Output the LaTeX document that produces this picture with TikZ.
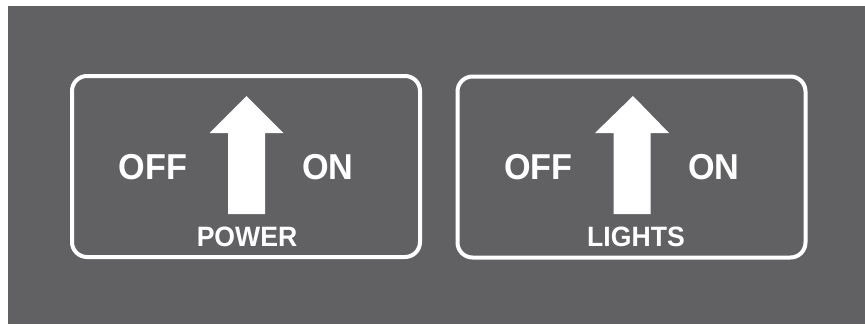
\documentclass[tikz,border=0pt]{standalone}
\usepackage{fontspec}
\setmainfont{Liberation Sans}[FakeStretch=0.95]
\usepackage{xcolor}
\definecolor{panelgrey}{HTML}{616163}

\begin{document}
\begin{tikzpicture}[
  x=1pt, y=-1pt,
  panel/.style={draw=white, line width=4pt, rounded corners=15pt, minimum width=348pt, minimum height=181pt, inner sep=0pt},
  statelabel/.style={text=white, font=\fontsize{36}{36}\selectfont\bfseries, anchor=base, inner sep=0pt},
  switchlabel/.style={text=white, font=\fontsize{28}{28}\selectfont\bfseries, anchor=base, inner sep=0pt},
  bigarrow/.style={fill=white}
]
\useasboundingbox (0,0) rectangle (865,327);
\fill[white] (0,0) rectangle (865,327);
\fill[panelgrey] (8,6) rectangle (865,324);

% power switch
\node[panel] (power) at (246,166.5) {};
\node[statelabel] (poweroff) at (153,179) {OFF};
\node[statelabel] (poweron) at (328,179) {ON};
\node[switchlabel] (powername) at (247,246) {POWER};
\coordinate (powertip) at (246.5,96);
\fill[bigarrow] (powertip) -- ++(37,37) -- ++(-18.5,0) -- ++(0,81) -- ++(-37,0)
  -- ++(0,-81) -- ++(-18.5,0) -- cycle;

% lights switch
\node[panel] (lights) at (631.5,167) {};
\node[statelabel] (lightsoff) at (538.5,179) {OFF};
\node[statelabel] (lightson) at (714,179) {ON};
\node[switchlabel] (lightsname) at (636,246) {LIGHTS};
\coordinate (lightstip) at (633,96);
\fill[bigarrow] (lightstip) -- ++(36,37) -- ++(-18.5,0) -- ++(0,81) -- ++(-37,0)
  -- ++(0,-81) -- ++(-18.5,0) -- cycle;
\end{tikzpicture}
\end{document}
